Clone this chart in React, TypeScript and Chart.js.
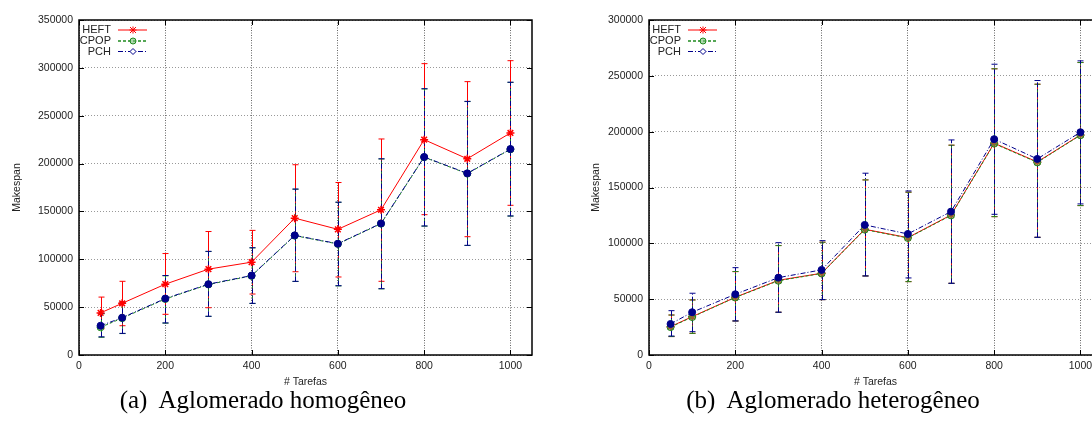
import React, { useEffect, useRef } from 'react';
import { Chart, registerables } from 'chart.js';
Chart.register(...registerables);

const tarefas = [50, 100, 200, 300, 400, 500, 600, 700, 800, 900, 1000];
const xTickValues = [0, 200, 400, 600, 800, 1000];

// (a) Aglomerado homogêneo
const homHeftMean = [44000, 54000, 74000, 89700, 97000, 143000, 131300, 151700, 225000, 205000, 232000];
const homHeftLow = [27500, 30600, 42500, 49400, 63700, 87000, 81500, 77000, 146600, 123600, 156400];
const homHeftHigh = [60500, 77000, 106000, 129000, 130200, 198800, 180200, 225700, 304400, 285600, 307500];
const homCpopMean = [29000, 38500, 58500, 73700, 82700, 124700, 116000, 137200, 206600, 189500, 214900];
const homCpopLow = [18500, 22400, 33300, 40300, 53800, 76800, 72200, 69100, 134600, 114400, 145100];
const homCpopHigh = [43000, 54800, 82800, 108100, 111900, 173200, 159500, 204800, 278000, 264800, 284800];
const homPchMean = [30600, 39000, 59000, 74000, 83000, 125000, 116300, 137500, 206900, 189800, 215200];
const homPchLow = [19000, 22600, 33500, 40500, 54000, 77000, 72400, 69300, 134800, 114600, 145300];
const homPchHigh = [43500, 55400, 83000, 108300, 112100, 173400, 159700, 205000, 278200, 265000, 285000];

// (b) Aglomerado heterogêneo
const hetHeftMean = [25400, 34300, 51700, 66900, 73200, 112600, 105100, 125400, 189700, 172900, 197100];
const hetHeftLow = [16500, 19400, 30500, 38300, 49600, 70800, 65700, 64200, 123900, 105400, 133800];
const hetHeftHigh = [35800, 49300, 74700, 98000, 101000, 156800, 145800, 187900, 256300, 242500, 261900];
const hetCpopMean = [25000, 34000, 51500, 66500, 73000, 112300, 104800, 125000, 189300, 172500, 196800];
const hetCpopLow = [16500, 19400, 30500, 38300, 49600, 70800, 65700, 64200, 123900, 105400, 133800];
const hetCpopHigh = [35800, 49300, 74700, 98000, 101000, 156800, 145800, 187900, 256300, 242500, 261900];
const hetPchMean = [27800, 38300, 54400, 69300, 76200, 116500, 108400, 128400, 193300, 175600, 199500];
const hetPchLow = [17000, 20900, 30500, 38300, 49600, 70800, 69000, 64200, 126000, 105400, 135300];
const hetPchHigh = [39700, 55300, 78200, 100600, 102400, 162800, 146900, 192600, 260400, 245800, 263400];

const seriesNames = ['HEFT', 'CPOP', 'PCH'];
const xTitle = '# Tarefas';
const yTitle = 'Makespan';
const captionA = '(a)  Aglomerado homogêneo';
const captionB = '(b)  Aglomerado heterogêneo';

const SANS = '"Liberation Sans", Arial, Helvetica, sans-serif';
const TXT = '#222';

type Series = {
  label: string;
  mean: number[];
  low: number[];
  high: number[];
  color: string;
  fill: string;
  dash: number[];
  style: string;
  order: number;
};

const styles = [
  { color: '#ff0000', fill: '#ff0000', dash: [] as number[], style: 'star', order: 2 },
  { color: '#1f8a1f', fill: 'rgba(80,170,80,0.55)', dash: [3, 2], style: 'circle', order: 1 },
  { color: '#00008b', fill: '#00008b', dash: [5, 2, 1, 2], style: 'circle', order: 0 },
];

function buildSeries(means: number[][], lows: number[][], highs: number[][]): Series[] {
  return seriesNames.map((label, k) => ({
    label,
    mean: means[k],
    low: lows[k],
    high: highs[k],
    ...styles[k],
  }));
}

type ChartCfg = {
  series: Series[];
  yMax: number;
  yWidth: number;
  padRight: number;
  titlePad: number;
};

function makeChart(canvas: HTMLCanvasElement, cfg: ChartCfg) {
  const font = { family: SANS, size: 10.5 };
  const errPlugin = {
    id: 'errbars',
    beforeDatasetsDraw(chart: any) {
      const { ctx } = chart;
      const xs = chart.scales.x;
      const ys = chart.scales.y;
      ctx.save();
      cfg.series.forEach((s) => {
        ctx.strokeStyle = s.color;
        ctx.lineWidth = 1;
        tarefas.forEach((t, i) => {
          const x = Math.round(xs.getPixelForValue(t)) + 0.5;
          const yl = ys.getPixelForValue(s.low[i]);
          const yh = ys.getPixelForValue(s.high[i]);
          ctx.setLineDash(s.dash);
          ctx.beginPath();
          ctx.moveTo(x, yl);
          ctx.lineTo(x, yh);
          ctx.stroke();
          ctx.setLineDash([]);
          ctx.beginPath();
          ctx.moveTo(x - 3, yl);
          ctx.lineTo(x + 3, yl);
          ctx.moveTo(x - 3, yh);
          ctx.lineTo(x + 3, yh);
          ctx.stroke();
        });
      });
      ctx.restore();
    },
  };
  const framePlugin = {
    id: 'frame',
    afterDatasetsDraw(chart: any) {
      const { ctx, chartArea: a } = chart;
      const xs = chart.scales.x;
      const ys = chart.scales.y;
      ctx.save();
      ctx.strokeStyle = '#000';
      ctx.lineWidth = 1;
      ctx.setLineDash([]);
      ctx.beginPath();
      for (let v = 0; v <= cfg.yMax; v += 50000) {
        const y = Math.round(ys.getPixelForValue(v)) + 0.5;
        ctx.moveTo(a.left, y);
        ctx.lineTo(a.left + 5, y);
        ctx.moveTo(a.right, y);
        ctx.lineTo(a.right - 5, y);
      }
      xTickValues.forEach((v) => {
        const x = Math.round(xs.getPixelForValue(v)) + 0.5;
        ctx.moveTo(x, a.bottom);
        ctx.lineTo(x, a.bottom - 5);
        ctx.moveTo(x, a.top);
        ctx.lineTo(x, a.top + 5);
      });
      ctx.stroke();
      ctx.lineWidth = 1.5;
      ctx.strokeRect(a.left, a.top, a.right - a.left, a.bottom - a.top);

      // key (legend)
      ctx.font = `11px ${SANS}`;
      ctx.textAlign = 'right';
      ctx.textBaseline = 'middle';
      const rows = [10, 21, 31.5];
      cfg.series.forEach((s, k) => {
        const y = a.top + rows[k];
        ctx.fillStyle = TXT;
        ctx.fillText(s.label, a.left + 32, y);
        ctx.strokeStyle = s.color;
        ctx.lineWidth = k === 1 ? 1.5 : 1;
        ctx.setLineDash(s.dash);
        ctx.beginPath();
        ctx.moveTo(a.left + 39, y);
        ctx.lineTo(a.left + 68, y);
        ctx.stroke();
        ctx.setLineDash([]);
        const mx = a.left + 54;
        ctx.lineWidth = 1;
        ctx.beginPath();
        if (k === 0) {
          ctx.moveTo(mx - 3, y - 3); ctx.lineTo(mx + 3, y + 3);
          ctx.moveTo(mx + 3, y - 3); ctx.lineTo(mx - 3, y + 3);
          ctx.moveTo(mx - 3.5, y); ctx.lineTo(mx + 3.5, y);
          ctx.moveTo(mx, y - 3.5); ctx.lineTo(mx, y + 3.5);
          ctx.stroke();
        } else if (k === 1) {
          ctx.arc(mx, y, 3, 0, Math.PI * 2);
          ctx.fillStyle = 'rgba(120,190,120,0.6)';
          ctx.fill();
          ctx.stroke();
        } else {
          ctx.moveTo(mx, y - 3); ctx.lineTo(mx + 3, y); ctx.lineTo(mx, y + 3); ctx.lineTo(mx - 3, y); ctx.closePath();
          ctx.fillStyle = '#fff';
          ctx.fill();
          ctx.stroke();
        }
      });
      ctx.restore();
    },
  };

  return new Chart(canvas, {
    type: 'line',
    data: {
      datasets: cfg.series.map((s) => ({
        label: s.label,
        data: tarefas.map((t, i) => ({ x: t, y: s.mean[i] })),
        borderColor: s.color,
        backgroundColor: s.fill,
        borderWidth: 1,
        borderDash: s.dash,
        pointStyle: s.style as any,
        pointRadius: s.style === 'star' ? 4 : 3.5,
        pointBorderColor: s.color,
        pointBackgroundColor: s.fill,
        pointBorderWidth: s.style === 'star' ? 1.5 : 1,
        fill: false,
        tension: 0,
        order: s.order,
      })),
    },
    options: {
      responsive: false,
      animation: false,
      devicePixelRatio: 1,
      layout: { padding: { left: 0, top: 20, right: cfg.padRight, bottom: 0 } },
      plugins: { legend: { display: false }, tooltip: { enabled: false } },
      scales: {
        x: {
          type: 'linear',
          min: 0,
          max: 1050,
          ticks: {
            stepSize: 200,
            includeBounds: false,
            color: TXT,
            font,
            padding: 5,
            maxRotation: 0,
            autoSkip: false,
            callback: (v: any) => String(v),
          },
          grid: { color: '#666', lineWidth: 1, drawTicks: false },
          border: { display: false, dash: [1, 1.5] },
          title: { display: true, text: xTitle, color: TXT, font, padding: { top: 0, bottom: 2 } },
          afterFit: (s: any) => {
            s.height = 35;
          },
        },
        y: {
          type: 'linear',
          min: 0,
          max: cfg.yMax,
          ticks: {
            stepSize: 50000,
            color: TXT,
            font,
            padding: 6,
            callback: (v: any) => String(v),
          },
          grid: { color: '#999', lineWidth: 1, drawTicks: false },
          border: { display: false, dash: [1, 2] },
          title: { display: true, text: yTitle, color: TXT, font, padding: { top: cfg.titlePad, bottom: 0 } },
          afterFit: (s: any) => {
            s.width = cfg.yWidth;
          },
        },
      },
    } as any,
    plugins: [errPlugin, framePlugin],
  });
}

const seriesA = buildSeries(
  [homHeftMean, homCpopMean, homPchMean],
  [homHeftLow, homCpopLow, homPchLow],
  [homHeftHigh, homCpopHigh, homPchHigh]
);
const seriesB = buildSeries(
  [hetHeftMean, hetCpopMean, hetPchMean],
  [hetHeftLow, hetCpopLow, hetPchLow],
  [hetHeftHigh, hetCpopHigh, hetPchHigh]
);

export default function App() {
  const refA = useRef<HTMLCanvasElement>(null);
  const refB = useRef<HTMLCanvasElement>(null);
  useEffect(() => {
    const a = makeChart(refA.current!, { series: seriesA, yMax: 350000, yWidth: 79, padRight: 14, titlePad: 11 });
    const b = makeChart(refB.current!, { series: seriesB, yMax: 300000, yWidth: 89, padRight: 18, titlePad: 30 });
    return () => {
      a.destroy();
      b.destroy();
    };
  }, []);
  const capStyle: React.CSSProperties = {
    position: 'absolute',
    top: 386,
    width: 500,
    textAlign: 'center',
    fontFamily: '"Liberation Serif", "Times New Roman", serif',
    fontSize: 25,
    lineHeight: '28px',
    whiteSpace: 'pre',
    color: '#000',
  };
  return (
    <div
      style={{
        position: 'fixed',
        left: 0,
        top: 0,
        width: 1092,
        height: 424,
        overflow: 'hidden',
        background: '#fff',
      }}
    >
      <canvas ref={refA} width={546} height={390} style={{ position: 'absolute', left: 0, top: 0 }} />
      <canvas ref={refB} width={560} height={390} style={{ position: 'absolute', left: 560, top: 0 }} />
      <div style={{ ...capStyle, left: 263 - 250 }}>{captionA}</div>
      <div style={{ ...capStyle, left: 833 - 250 }}>{captionB}</div>
    </div>
  );
}
